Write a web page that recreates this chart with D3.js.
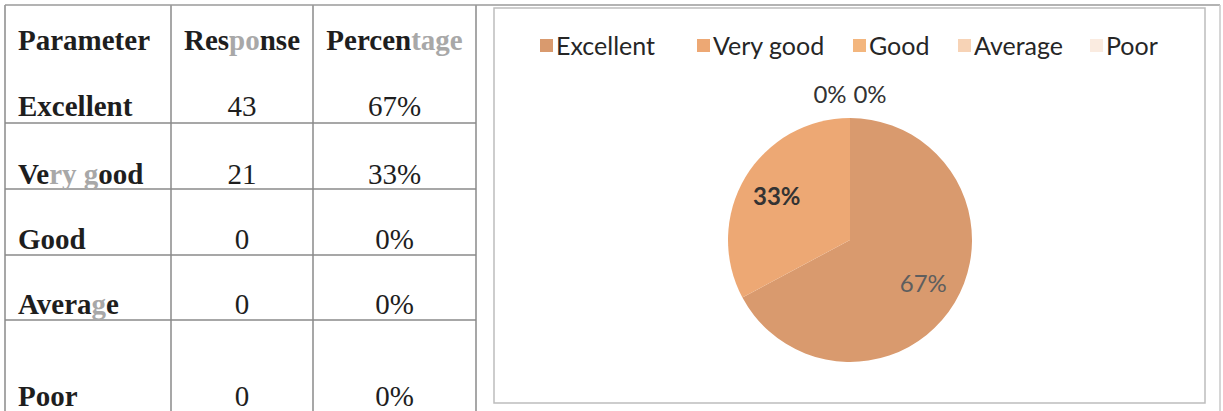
<!DOCTYPE html>
<html>
<head>
<meta charset="utf-8">
<script src="https://cdn.jsdelivr.net/npm/d3@7"></script>
<style>
  body { margin: 0; background: #fff; }
  svg { display: block; }
</style>
</head>
<body>
<div id="chart-container"></div>
<script>
// data
const parameters = ["Excellent", "Very good", "Good", "Average", "Poor"];
const responses = [43, 21, 0, 0, 0];
const percentages = ["67%", "33%", "0%", "0%", "0%"];
const headers = ["Parameter", "Response", "Percentage"];
const sliceColors = ["#d99a6e", "#eda874", "#f3b67e", "#f7d3b6", "#faebe0"];

const chartWidth = 1223;
const chartHeight = 411;

const svg = d3.select("#chart-container")
    .append("svg")
    .attr("width", chartWidth)
    .attr("height", chartHeight)
    .style("background", "#fff");

// ---------- table (left) ----------
const colEdges = [5, 171, 313, 476];
const rowLines = [123, 189, 255, 320];
const headerBaseline = 50;
const rowBaselines = [116, 184, 249, 314, 406];

// scan left some letters washed out
const faded = { "Response": [3, 5], "Percentage": [6, 10], "Very good": [2, 6], "Average": [5, 6] };

function fadedText(sel, str) {
    const f = faded[str];
    if (!f) { sel.text(str); return; }
    sel.append("tspan").text(str.slice(0, f[0]));
    sel.append("tspan").attr("fill", "#a8a8a8").text(str.slice(f[0], f[1]));
    sel.append("tspan").text(str.slice(f[1]));
}

const table = svg.append("g");

table.selectAll(".vline")
    .data(colEdges)
    .enter().append("line")
    .attr("x1", d => d).attr("x2", d => d)
    .attr("y1", 5).attr("y2", chartHeight)
    .attr("stroke", "#8a8a8a")
    .attr("stroke-width", 1.5);

table.selectAll(".hline")
    .data(rowLines)
    .enter().append("line")
    .attr("x1", colEdges[0]).attr("x2", colEdges[3])
    .attr("y1", d => d).attr("y2", d => d)
    .attr("stroke", "#8a8a8a")
    .attr("stroke-width", 1.5);

const serif = "'Liberation Serif', 'Times New Roman', serif";

headers.forEach((h, i) => {
    const t = table.append("text")
        .attr("x", i === 0 ? 18 : (colEdges[i] + colEdges[i + 1]) / 2)
        .attr("y", headerBaseline)
        .attr("text-anchor", i === 0 ? "start" : "middle")
        .style("font-family", serif)
        .style("font-weight", "bold")
        .style("font-size", "29px")
        .attr("fill", "#1e1e1e");
    fadedText(t, h);
});

parameters.forEach((p, i) => {
    const t = table.append("text")
        .attr("x", 18)
        .attr("y", rowBaselines[i])
        .style("font-family", serif)
        .style("font-weight", "bold")
        .style("font-size", "29px")
        .attr("fill", "#1e1e1e");
    fadedText(t, p);

    table.append("text")
        .attr("x", (colEdges[1] + colEdges[2]) / 2)
        .attr("y", rowBaselines[i])
        .attr("text-anchor", "middle")
        .style("font-family", serif)
        .style("font-size", "29px")
        .attr("fill", "#1e1e1e")
        .text(responses[i]);

    table.append("text")
        .attr("x", (colEdges[2] + colEdges[3]) / 2)
        .attr("y", rowBaselines[i])
        .attr("text-anchor", "middle")
        .style("font-family", serif)
        .style("font-size", "29px")
        .attr("fill", "#1e1e1e")
        .text(percentages[i]);
});

// ---------- pie panel (right) ----------
svg.append("line")
    .attr("x1", 5).attr("x2", 1220)
    .attr("y1", 5).attr("y2", 5)
    .attr("stroke", "#9a9a9a").attr("stroke-width", 1.5);

svg.append("rect")
    .attr("x", 494).attr("y", 8)
    .attr("width", 1205 - 494).attr("height", 403 - 8)
    .attr("fill", "none")
    .attr("stroke", "#bdbdbd").attr("stroke-width", 1.5);

svg.append("line")
    .attr("x1", 1220).attr("x2", 1220)
    .attr("y1", 5).attr("y2", chartHeight)
    .attr("stroke", "#c8c8c8").attr("stroke-width", 1.5);

const sans = "Lato, 'Open Sans', sans-serif";

// legend
const legendX = [540, 697, 853, 958, 1090];
const legend = svg.append("g").attr("transform", "translate(0, 46)");
parameters.forEach((p, i) => {
    legend.append("rect")
        .attr("x", legendX[i]).attr("y", -7)
        .attr("width", 13).attr("height", 13)
        .attr("fill", sliceColors[i]);
    legend.append("text")
        .attr("x", legendX[i] + 16)
        .attr("y", 0)
        .attr("dy", "0.35em")
        .style("font-family", sans)
        .style("font-size", "25px")
        .attr("fill", "#262626")
        .text(p);
});

// pie
const cx = 850, cy = 240, radius = 122;
const pieG = svg.append("g").attr("transform", `translate(${cx}, ${cy})`);

const pie = d3.pie().sort(null).value(d => d.value);
const arcs = pie(parameters.map((p, i) => ({ name: p, value: responses[i], pct: percentages[i] })));

const arc = d3.arc().innerRadius(0).outerRadius(radius);
const labelArc = d3.arc().innerRadius(radius * 0.7).outerRadius(radius * 0.7);
const outerArc = d3.arc().innerRadius(radius + 23).outerRadius(radius + 23);

pieG.selectAll(".slice")
    .data(arcs)
    .enter().append("path")
    .attr("class", "slice")
    .attr("d", arc)
    .attr("fill", (d, i) => sliceColors[i])
    .attr("stroke", "none");

// labels: inside for real slices, zero slices placed outside at the top
const zeroShown = arcs.filter(d => d.value === 0).slice(0, 2);
const zeroSpread = 40;

pieG.selectAll(".lbl")
    .data(arcs.filter(d => d.value > 0))
    .enter().append("text")
    .attr("transform", d => `translate(${labelArc.centroid(d)})`)
    .attr("text-anchor", "middle")
    .attr("dy", "0.35em")
    .style("font-family", sans)
    .style("font-size", "24px")
    .style("font-weight", (d, i) => i === 1 ? "bold" : "normal")
    .attr("fill", (d, i) => i === 1 ? "#333" : "#5e5e5e")
    .text(d => d.data.pct);

pieG.selectAll(".zlbl")
    .data(zeroShown)
    .enter().append("text")
    .attr("transform", (d, i) => {
        const c = outerArc.centroid(d);
        return `translate(${c[0] + (i - (zeroShown.length - 1) / 2) * zeroSpread}, ${c[1]})`;
    })
    .attr("text-anchor", "middle")
    .attr("dy", "0.35em")
    .style("font-family", sans)
    .style("font-size", "24px")
    .attr("fill", "#333")
    .text(d => d.data.pct);
</script>
</body>
</html>
